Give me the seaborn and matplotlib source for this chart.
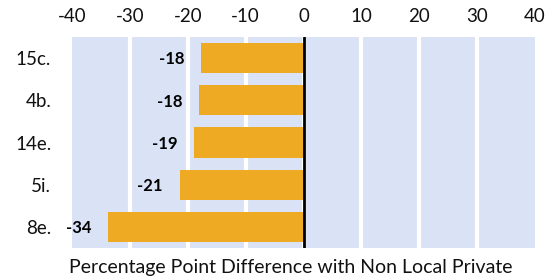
import numpy as np
import pandas as pd
import seaborn as sns
import matplotlib.pyplot as plt

# Data
items = ['15c.', '4b.', '14e.', '5i.', '8e.']
diffs = [-17.7, -18.0, -18.9, -21.4, -33.8]
labels = ['-18', '-18', '-19', '-21', '-34']
ticks = [-40, -30, -20, -10, 0, 10, 20, 30, 40]

df = pd.DataFrame({'item': items, 'diff': diffs})

sns.set_style('white')
plt.rcParams['font.family'] = ['Lato', 'DejaVu Sans']

fig = plt.figure(figsize=(5.59, 2.80), dpi=100)
ax = fig.add_axes([72 / 559, 32 / 280, 463 / 559, 211 / 280])
ax.set_facecolor('#dae3f5')

sns.barplot(data=df, x='diff', y='item', orient='h', color='#eeaa22',
            saturation=1, width=0.72, linewidth=0, edgecolor='none',
            ax=ax, zorder=3)

ax.set_xlim(-40, 40)
ax.set_ylim(4.5, -0.5)
ax.set_xticks(ticks)
ax.set_xticklabels([str(t) for t in ticks])
ax.xaxis.tick_top()
ax.tick_params(axis='x', length=0, pad=9, labelsize=13.5, colors='#111111')
ax.tick_params(axis='y', length=0, pad=15, labelsize=13.5, colors='#111111')

for t in ticks[1:-1]:
    ax.axvline(t, color='white', lw=3, zorder=1)
ax.axvline(0, color='black', lw=2, zorder=4)

for i, (v, lab) in enumerate(zip(diffs, labels)):
    ax.annotate(lab, xy=(v, i), xytext=(-12, -1), textcoords='offset points',
                ha='right', va='center', fontsize=12, fontweight='bold',
                color='black')

for s in ax.spines.values():
    s.set_visible(False)

ax.set_ylabel('')
ax.set_xlabel('')
fig.text(291 / 559, 12 / 280, 'Percentage Point Difference with Non Local Private',
         ha='center', va='center', fontsize=14, color='#111111')

fig.savefig('out.png', dpi=100)
